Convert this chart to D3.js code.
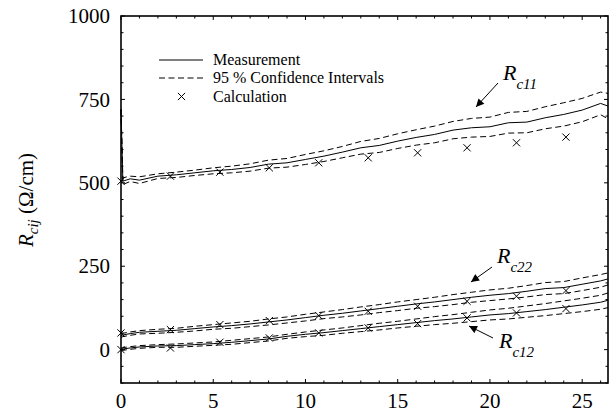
<!DOCTYPE html>
<html>
<head>
<meta charset="utf-8">
<script src="https://cdn.jsdelivr.net/npm/d3@7"></script>
<style>
  body { margin: 0; background: #fff; }
  svg text { font-family: "Liberation Serif", Tinos, "DejaVu Serif", serif; fill: #000; }
</style>
</head>
<body>
<div id="chart"></div>
<script>
// x positions of the measured curves
const time = [0, 0.1, 0.5, 1, 2, 3, 4, 5, 6, 7, 8, 9, 10, 11, 12, 13, 14, 15, 16, 17, 18, 19, 20, 21, 22, 23, 24, 25, 26, 26.4];

const rc11 = [720, 505, 512, 508, 520, 524, 530, 536, 540, 546, 556, 560, 570, 580, 592, 605, 612, 625, 636, 645, 658, 665, 668, 680, 682, 695, 705, 718, 738, 730];
const rc11Up = [720, 515, 520, 518, 527, 532, 538, 545, 550, 557, 568, 573, 585, 596, 609, 624, 633, 647, 659, 670, 684, 693, 697, 711, 714, 728, 740, 753, 772, 768];
const rc11Lo = [720, 495, 504, 498, 513, 516, 522, 527, 530, 535, 544, 547, 555, 564, 575, 586, 591, 603, 613, 620, 632, 637, 639, 649, 650, 662, 670, 683, 704, 692];

const rc22 = [42, 44, 48, 52, 55, 58, 63, 68, 72, 77, 83, 89, 96, 103, 109, 116, 123, 130, 137, 143, 150, 157, 163, 168, 175, 183, 186, 196, 206, 212];
const rc22Up = [47, 49, 53, 57, 61, 64, 70, 75, 80, 85, 92, 98, 106, 113, 120, 128, 135, 143, 150, 157, 165, 172, 179, 184, 192, 201, 204, 215, 225, 230];
const rc22Lo = [37, 39, 43, 47, 49, 52, 56, 61, 64, 69, 74, 80, 86, 93, 98, 104, 111, 117, 124, 129, 135, 142, 147, 152, 158, 165, 168, 177, 187, 194];

const rc12 = [0, 2, 5, 8, 11, 12, 15, 18, 22, 27, 32, 40, 46, 51, 57, 63, 69, 75, 81, 87, 92, 98, 104, 108, 114, 120, 127, 134, 142, 148];
const rc12Up = [4, 6, 9, 12, 15, 17, 20, 23, 28, 33, 38, 46, 53, 59, 65, 72, 79, 85, 92, 99, 105, 112, 119, 124, 131, 138, 146, 154, 163, 170];
const rc12Lo = [-4, -2, 1, 4, 7, 7, 10, 13, 16, 21, 26, 34, 39, 43, 49, 54, 59, 65, 70, 75, 79, 84, 89, 92, 97, 102, 108, 114, 121, 126];

// calculated points
const calcX = [0, 2.68, 5.36, 8.04, 10.72, 13.4, 16.08, 18.76, 21.44, 24.12];
const calc11 = [505, 520, 532, 545, 560, 575, 590, 605, 620, 637];
const calc22 = [50, 60, 75, 87, 102, 115, 130, 145, 160, 177];
const calc12 = [0, 5, 22, 35, 50, 65, 78, 95, 110, 123];

const xTicks = [0, 5, 10, 15, 20, 25];
const yTicks = [0, 250, 500, 750, 1000];

const FONT = '"Liberation Serif", Tinos, "DejaVu Serif", serif';
const MARGIN = { TOP: 16, LEFT: 121, RIGHT: 8, BOTTOM: 31 };
const W = 616 - MARGIN.LEFT - MARGIN.RIGHT;
const H = 414 - MARGIN.TOP - MARGIN.BOTTOM;

const svg = d3.select("#chart").append("svg")
  .attr("width", 616)
  .attr("height", 414)
  .attr("font-family", FONT);

const g = svg.append("g")
  .attr("transform", `translate(${MARGIN.LEFT}, ${MARGIN.TOP})`);

const x = d3.scaleLinear().domain([0, 26.4]).range([0, W]);
const y = d3.scaleLinear().domain([-100, 1000]).range([H, 0]);

// ticks, inward on all four sides
const minorX = d3.range(0, 27, 1);
const minorY = d3.range(-100, 1001, 50);
const tickG = g.append("g").attr("stroke", "#000").attr("stroke-width", 1);
minorX.forEach((v) => {
  const len = xTicks.includes(v) ? 4 : 2.5;
  tickG.append("line").attr("x1", x(v)).attr("x2", x(v)).attr("y1", H).attr("y2", H - len);
  tickG.append("line").attr("x1", x(v)).attr("x2", x(v)).attr("y1", 0).attr("y2", len);
});
minorY.forEach((v) => {
  const len = yTicks.includes(v) ? 4 : 2.5;
  tickG.append("line").attr("y1", y(v)).attr("y2", y(v)).attr("x1", 0).attr("x2", len);
  tickG.append("line").attr("y1", y(v)).attr("y2", y(v)).attr("x1", W).attr("x2", W - len);
});

// tick labels
g.selectAll(".xl").data(xTicks).enter().append("text")
  .attr("x", (d) => x(d))
  .attr("y", H + 25)
  .attr("text-anchor", "middle")
  .style("font-size", "21px")
  .text((d) => d);

g.selectAll(".yl").data(yTicks).enter().append("text")
  .attr("x", -11)
  .attr("y", (d) => y(d))
  .attr("dy", "0.34em")
  .attr("text-anchor", "end")
  .style("font-size", "21px")
  .text((d) => d);

// y axis title
const yTitle = svg.append("text")
  .attr("transform", "translate(33, 200) rotate(-90)")
  .attr("text-anchor", "middle")
  .style("font-size", "21px");
yTitle.append("tspan").style("font-style", "italic").text("R");
yTitle.append("tspan").style("font-style", "italic").style("font-size", "15px").attr("dy", 5).text("cij");
yTitle.append("tspan").attr("dy", -5).text(" (Ω/cm)");

// curves
const line = d3.line()
  .x((d) => x(d[0]))
  .y((d) => y(d[1]));

const curves = [
  [rc11, false], [rc11Up, true], [rc11Lo, true],
  [rc22, false], [rc22Up, true], [rc22Lo, true],
  [rc12, false], [rc12Up, true], [rc12Lo, true],
];
curves.forEach(([vals, dashed]) => {
  g.append("path")
    .datum(time.map((t, i) => [t, vals[i]]))
    .attr("d", line)
    .attr("fill", "none")
    .attr("stroke", "#000")
    .attr("stroke-width", 1)
    .attr("stroke-dasharray", dashed ? "6,3.5" : null);
});

// crosses
const cross = (sel, cx, cy) => {
  const s = 3.6;
  sel.append("path")
    .attr("d", `M${cx - s},${cy - s}L${cx + s},${cy + s}M${cx - s},${cy + s}L${cx + s},${cy - s}`)
    .attr("stroke", "#000")
    .attr("stroke-width", 1)
    .attr("fill", "none");
};
[calc11, calc22, calc12].forEach((vals) => {
  vals.forEach((v, i) => cross(g, x(calcX[i]), y(v)));
});

// frame
g.append("rect")
  .attr("width", W).attr("height", H)
  .attr("fill", "none")
  .attr("stroke", "#000")
  .attr("stroke-width", 1.6);

// legend
const leg = svg.append("g");
leg.append("line").attr("x1", 159).attr("x2", 203).attr("y1", 60).attr("y2", 60).attr("stroke", "#000");
leg.append("line").attr("x1", 159).attr("x2", 203).attr("y1", 78).attr("y2", 78).attr("stroke", "#000").attr("stroke-dasharray", "6,3.5");
cross(leg, 181.5, 96.5);
[["Measurement", 60], ["95 % Confidence Intervals", 78], ["Calculation", 96.5]].forEach(([t, yy]) => {
  leg.append("text").attr("x", 213).attr("y", yy).attr("dy", "0.33em").style("font-size", "16px").text(t);
});

// annotations with arrows
svg.append("defs").append("marker")
  .attr("id", "ah")
  .attr("viewBox", "0 0 10 10")
  .attr("refX", 10).attr("refY", 5)
  .attr("markerWidth", 10).attr("markerHeight", 8)
  .attr("markerUnits", "userSpaceOnUse")
  .attr("orient", "auto")
  .append("path").attr("d", "M0,0L10,5L0,10Z").attr("fill", "#000");

const notes = [
  { sub: "c11", tx: 503, ty: 80, ax1: 498, ay1: 83, ax2: 476, ay2: 107 },
  { sub: "c22", tx: 497, ty: 263, ax1: 492, ay1: 267, ax2: 471, ay2: 282 },
  { sub: "c12", tx: 499, ty: 348, ax1: 493, ay1: 338, ax2: 469, ay2: 326 },
];
notes.forEach((n) => {
  const t = svg.append("text").attr("x", n.tx).attr("y", n.ty).style("font-style", "italic").style("font-size", "22px");
  t.append("tspan").text("R");
  t.append("tspan").attr("dy", 9).style("font-size", "15px").text(n.sub);
  svg.append("line")
    .attr("x1", n.ax1).attr("y1", n.ay1).attr("x2", n.ax2).attr("y2", n.ay2)
    .attr("stroke", "#000").attr("stroke-width", 1)
    .attr("marker-end", "url(#ah)");
});
</script>
</body>
</html>
